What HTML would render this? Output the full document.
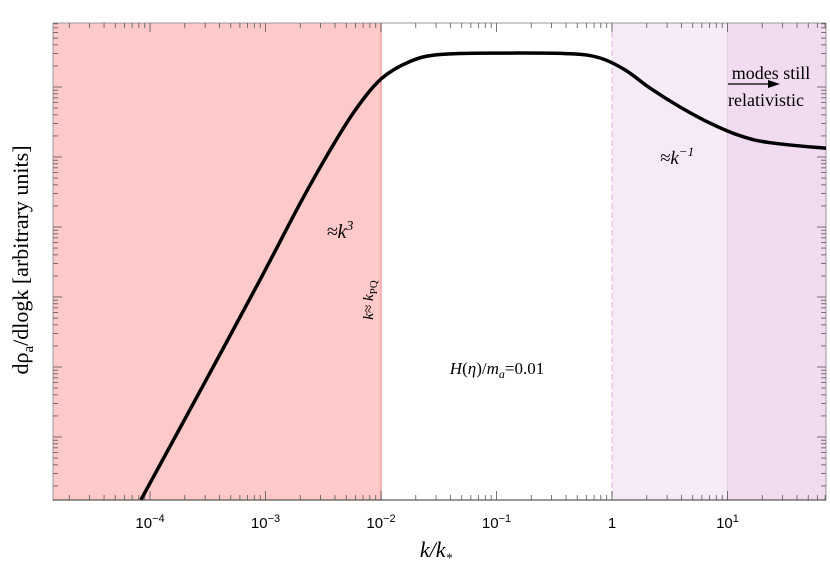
<!DOCTYPE html>
<html><head><meta charset="utf-8"><style>
body{margin:0;background:#fff;}
svg{display:block;font-family:"Liberation Serif",serif;}
</style></head><body>
<svg id="chart" width="830" height="574">
<g id="bg"></g><g id="ticks"></g><g id="curve"></g>
<text x="340" y="238" font-size="20" font-style="italic" text-anchor="middle">≈k<tspan dy="-8" font-size="14">3</tspan></text>
<text transform="translate(373,300) rotate(-90)" font-size="15" text-anchor="middle"><tspan font-style="italic">k</tspan>≈ <tspan font-style="italic">k</tspan><tspan dy="4" font-size="11">PQ</tspan></text>
<text x="497" y="374" font-size="17" text-anchor="middle"><tspan font-style="italic">H</tspan>(<tspan font-style="italic">η</tspan>)/<tspan font-style="italic">m</tspan><tspan dy="4" font-size="12" font-style="italic">a</tspan><tspan dy="-4">=0.01</tspan></text>
<text x="677" y="164" font-size="19" font-style="italic" text-anchor="middle">≈k<tspan dy="-8" font-size="13">−1</tspan></text>
<text x="771" y="79" font-size="18" text-anchor="middle">modes still</text>
<text x="766" y="106" font-size="18" text-anchor="middle">relativistic</text>
<line x1="728" y1="84" x2="768" y2="84" stroke="#000" stroke-width="1.3"/>
<polygon points="768,80 780,84 768,88" fill="#000"/>
<text transform="translate(28,260) rotate(-90)" font-size="22" text-anchor="middle">dρ<tspan dy="5" font-size="15">a</tspan><tspan dy="-5">/dlogk [arbitrary units]</tspan></text>
<text x="436" y="557" font-size="22" font-style="italic" text-anchor="middle">k/k<tspan dy="5" font-size="13">*</tspan></text>
</svg>
<script>
const logK=[-4.078,-3.567,-3.048,-2.701,-2.442,-2.225,-2.0,-1.749,-1.489,-0.970,-0.364,-0.104,0.113,0.329,0.589,0.848,1.108,1.368,1.853];
const logRho=[-6.81,-5.26,-3.67,-2.58,-1.82,-1.25,-0.80,-0.55,-0.45,-0.43,-0.44,-0.5,-0.67,-0.93,-1.2,-1.43,-1.61,-1.71,-1.79];
const xTickLabels=["10<tspan dy='-6' font-size='11'>−4</tspan>","10<tspan dy='-6' font-size='11'>−3</tspan>","10<tspan dy='-6' font-size='11'>−2</tspan>","10<tspan dy='-6' font-size='11'>−1</tspan>","1","10<tspan dy='-6' font-size='11'>1</tspan>"];
const xTickDecades=[-4,-3,-2,-1,0,1];
const L=53,R=826,T=23,B=500;
const xMin=-4.84,xMax=1.853;
const X=v=>L+(v-xMin)/(xMax-xMin)*(R-L);
const Y=v=>T-v*70;
const ns="http://www.w3.org/2000/svg";
function mk(p,t,a){const e=document.createElementNS(ns,t);for(const k in a)e.setAttribute(k,a[k]);p.appendChild(e);return e;}
const bg=document.getElementById('bg'),tk=document.getElementById('ticks'),cv=document.getElementById('curve');
let r=mk(bg,'rect',{x:L,y:T,width:X(-2)-L,height:B-T,fill:'#fdc9c9'});


r=mk(bg,'rect',{x:X(0),y:T,width:X(1)-X(0),height:B-T,fill:'#f7eaf7'});


r=mk(bg,'rect',{x:X(1),y:T,width:R-X(1),height:B-T,fill:'#f1dbf0'});


mk(bg,'line',{x1:X(-2),y1:T,x2:X(-2),y2:B,stroke:'#f8a0a0','stroke-width':1.5});
mk(bg,'line',{x1:X(0),y1:T,x2:X(0),y2:B,stroke:'#e8c8e8','stroke-width':1.5,'stroke-dasharray':'6,3'});
mk(bg,'line',{x1:X(1),y1:T,x2:X(1),y2:B,stroke:'#e6cce6','stroke-width':1});
let fr=mk(bg,'rect',{x:L,y:T,width:R-L,height:B-T,fill:'none',stroke:'#999','stroke-width':1});


mk(bg,'line',{x1:L,y1:B,x2:R,y2:B,stroke:'#333','stroke-width':1});
for(let d=-5;d<=1;d++){for(let m=1;m<10;m++){const v=d+Math.log10(m);if(v<xMin||v>xMax)continue;const x=X(v),len=m==1?9:5;
mk(tk,'line',{x1:x,y1:B,x2:x,y2:B-len,stroke:'#555','stroke-width':0.8});
mk(tk,'line',{x1:x,y1:T,x2:x,y2:T+len,stroke:'#555','stroke-width':0.8});}}
xTickDecades.forEach((d,i)=>{const t=mk(tk,'text',{x:X(d),y:528,'font-size':15,'text-anchor':'middle','font-family':'Liberation Sans Narrow, Liberation Sans, sans-serif'});t.innerHTML=xTickLabels[i];

});
for(let d=-1;d<8;d++){for(let m=1;m<10;m++){const y=17+70*d-70*Math.log10(m);if(y<T||y>B)continue;const len=m==1?9:5;
mk(tk,'line',{x1:L,y1:y,x2:L+len,y2:y,stroke:'#555','stroke-width':0.8});
mk(tk,'line',{x1:R,y1:y,x2:R-len,y2:y,stroke:'#555','stroke-width':0.8});}}
// smooth curve (Catmull-Rom)
const P=logK.map((k,i)=>[X(k),Y(logRho[i])]);
let d='M'+P[0][0].toFixed(1)+','+P[0][1].toFixed(1);
for(let i=0;i<P.length-1;i++){const p0=P[i-1]||P[i],p1=P[i],p2=P[i+1],p3=P[i+2]||P[i+1];
const c1=[p1[0]+(p2[0]-p0[0])/6,p1[1]+(p2[1]-p0[1])/6],c2=[p2[0]-(p3[0]-p1[0])/6,p2[1]-(p3[1]-p1[1])/6];
d+='C'+c1.map(v=>v.toFixed(1)).join(',')+' '+c2.map(v=>v.toFixed(1)).join(',')+' '+p2.map(v=>v.toFixed(1)).join(',');}
const p=mk(cv,'path',{d:d,fill:'none',stroke:'#000','stroke-width':3.5,'stroke-linejoin':'round'});


</script>
</body></html>
